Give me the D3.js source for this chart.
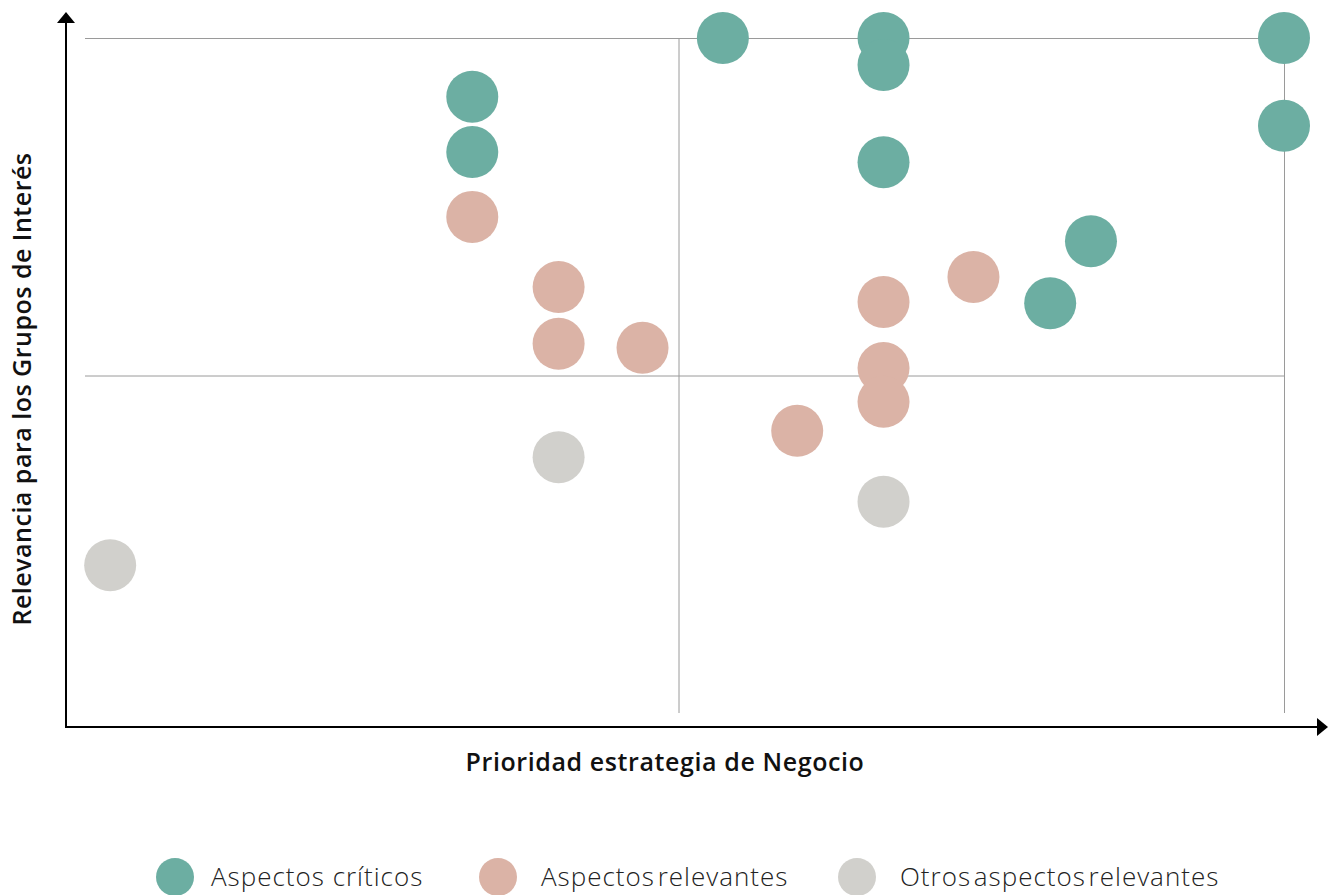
<!DOCTYPE html>
<html>
<head>
<meta charset="utf-8">
<script src="https://cdn.jsdelivr.net/npm/d3@7"></script>
<style>
    body { margin: 0; background: #fff; }
    svg { display: block; }
</style>
</head>
<body>
<svg class="chart" width="1328" height="895"></svg>
<script>
var categories = ["Aspectos críticos", "Aspectos relevantes", "Otros aspectos relevantes"];
var colors = ["#6caea2", "#dbb3a6", "#d1d0cc"];

// x = prioridad estrategia, y = relevancia grupos de interes (0-100)
var criticosX = [53.2, 66.6, 66.6, 66.6, 32.3, 32.3, 100, 100, 83.9, 80.5];
var criticosY = [100, 100, 96, 81.6, 91.3, 83.1, 100, 87, 69.9, 60.7];
var relevantesX = [32.3, 39.5, 39.5, 46.5, 66.6, 74.1, 66.6, 66.6, 59.4];
var relevantesY = [73.5, 63.1, 54.7, 54.1, 60.9, 64.6, 51.1, 46.1, 41.8];
var otrosX = [39.5, 66.6, 2.1];
var otrosY = [37.9, 31.3, 21.9];

var gridX = [49.5, 100];
var gridY = [50, 100];

var xTitle = "Prioridad estrategia de Negocio";
var yTitle = "Relevancia para los Grupos de Interés";

var series = [
    {name: categories[0], xs: criticosX, ys: criticosY},
    {name: categories[1], xs: relevantesX, ys: relevantesY},
    {name: categories[2], xs: otrosX, ys: otrosY}
];

var svg = d3.select("svg");

var x = d3.scaleLinear().domain([0, 100]).range([85, 1284]);
var y = d3.scaleLinear().domain([0, 100]).range([713, 38]);

var axisX = 66, axisY = 727;

// grid
svg.selectAll(".gy").data(gridY).enter().append("line")
    .attr("x1", x(0)).attr("x2", x(100))
    .attr("y1", function(d) { return y(d) + 0.5; })
    .attr("y2", function(d) { return y(d) + 0.5; })
    .attr("stroke", "#9a9a9a").attr("stroke-width", 1);

svg.selectAll(".gx").data(gridX).enter().append("line")
    .attr("y1", y(0)).attr("y2", y(100))
    .attr("x1", function(d) { return x(d) + 0.5; })
    .attr("x2", function(d) { return x(d) + 0.5; })
    .attr("stroke", "#9a9a9a").attr("stroke-width", 1);

// axes with arrows
svg.append("line")
    .attr("x1", axisX).attr("x2", axisX)
    .attr("y1", axisY + 1).attr("y2", 20)
    .attr("stroke", "#000").attr("stroke-width", 2);
svg.append("path")
    .attr("d", "M" + axisX + ",12 L" + (axisX + 9) + ",23 L" + (axisX - 9) + ",23 Z")
    .attr("fill", "#000");

svg.append("line")
    .attr("x1", axisX - 1).attr("x2", 1318)
    .attr("y1", axisY).attr("y2", axisY)
    .attr("stroke", "#000").attr("stroke-width", 2);
svg.append("path")
    .attr("d", "M1328," + axisY + " L1317," + (axisY - 9) + " L1317," + (axisY + 9) + " Z")
    .attr("fill", "#000");

// points
series.forEach(function(s, i) {
    var pts = s.xs.map(function(v, j) { return {x: v, y: s.ys[j]}; });
    svg.append("g").selectAll("circle").data(pts).enter().append("circle")
        .attr("cx", function(d) { return x(d.x); })
        .attr("cy", function(d) { return y(d.y); })
        .attr("r", 26)
        .attr("fill", colors[i]);
});

// titles
svg.append("text")
    .attr("x", 665).attr("y", 771)
    .attr("text-anchor", "middle")
    .style("font-family", "'Open Sans', sans-serif")
    .style("font-size", "25px").style("font-weight", 600)
    .style("letter-spacing", "0.6px")
    .attr("fill", "#111")
    .text(xTitle);

svg.append("text")
    .attr("transform", "translate(31,389) rotate(-90)")
    .attr("text-anchor", "middle")
    .style("font-family", "'Open Sans', sans-serif")
    .style("font-size", "25px").style("font-weight", 600)
    .style("letter-spacing", "0.5px")
    .attr("fill", "#111")
    .text(yTitle);

// legend
var legendX = [175, 498, 857];
var legendTextX = [36, 43, 43];
var legendWordSp = [0, -5, -5];
var legend = svg.selectAll(".legend").data(categories).enter().append("g")
    .attr("transform", function(d, i) { return "translate(" + legendX[i] + ",877)"; });

legend.append("circle")
    .attr("r", 19)
    .attr("fill", function(d, i) { return colors[i]; });

legend.append("text")
    .attr("x", function(d, i) { return legendTextX[i]; }).attr("y", 9)
    .style("font-family", "'Open Sans', sans-serif")
    .style("font-size", "26px").style("font-weight", 300)
    .style("letter-spacing", "1px")
    .style("word-spacing", function(d, i) { return legendWordSp[i] + "px"; })
    .attr("fill", "#222")
    .text(function(d) { return d; });
</script>
</body>
</html>
